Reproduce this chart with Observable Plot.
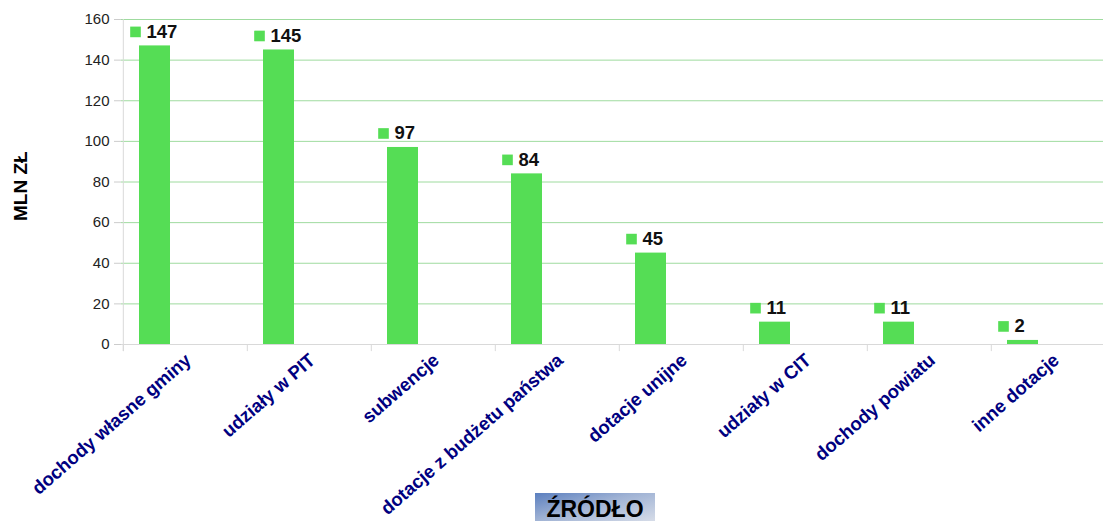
<!DOCTYPE html>
<html><head><meta charset="utf-8">
<script src="https://cdn.jsdelivr.net/npm/d3@7"></script>
<script src="https://cdn.jsdelivr.net/npm/@observablehq/plot@0.6"></script>
<style>
body{margin:0;background:#fff;font-family:"Liberation Sans",Arial,sans-serif;}
#wrap{position:relative;width:1103px;height:521px;overflow:hidden;background:#fff;}
#chart{position:absolute;left:0;top:0;width:1116px;}
#chart svg{max-width:none !important;}
#xtitle{position:absolute;left:535px;top:493px;width:120px;height:28px;background:linear-gradient(165deg,#5b7fbf 0%,#9fb2d4 45%,#d6dce8 100%);font-weight:bold;font-size:23px;color:#000;text-align:center;line-height:32px;font-family:"Liberation Sans",Arial,sans-serif;}
</style></head><body>
<div id="wrap"><div id="chart"></div><div id="xtitle">ŹRÓDŁO</div></div>
<script>
const categories = ["dochody własne gminy","udziały w PIT","subwencje","dotacje z budżetu państwa","dotacje unijne","udziały w CIT","dochody powiatu","inne dotacje"];
const values = [147,145,97,84,45,11,11,2];
const yTicks = [0,20,40,60,80,100,120,140,160];
const yTitle = "MLN ZŁ";

const data = categories.map((c,i)=>({category:c, value:values[i]}));
const green = "#55dd55";

const chart = Plot.plot({
  width: 1116, height: 521,
  marginLeft: 121, marginRight: 0, marginTop: 19, marginBottom: 177,
  style: {fontFamily: "Liberation Sans, Arial, sans-serif", background: "white", maxWidth: "none"},
  x: {domain: categories, padding: 0, label: null},
  y: {domain: [0,160], label: null},
  marks: [
    Plot.gridY(yTicks.filter(d=>d>0), {stroke: "#7fcf7f", strokeOpacity: 0.75}),
    Plot.ruleY([0], {stroke: "#d9d9d9"}),
    Plot.ruleX([0], {x: () => categories[0], dx: -62.2, y1: -3.5, y2: 160, stroke: "#d9d9d9"}),
    Plot.ruleX(categories, {x: d=>d, dx: -62.2, y1: -3.5, y2: 0, stroke: "#d9d9d9"}),
    Plot.barY(data, {x: "category", y: "value", fill: green, insetLeft: 16, insetRight: 77}),
    Plot.dot(data, {x: "category", y: "value", symbol: "square", r: 6, fill: green, stroke: null, dx: -50, dy: -14}),
    Plot.text(data, {x: "category", y: "value", text: d=>String(d.value), textAnchor: "start", dx: -39, dy: -14, fontWeight: "bold", fontSize: 18.5, fill: "#111"}),
    Plot.axisY(yTicks, {tickSize: 7, tickPadding: 5, fontSize: 15, color: "#222", stroke: "#cccccc", label: null}),
    Plot.axisX({tickSize: 0, tickRotate: -41, tickPadding: 13, dx: 3, fontSize: 18.5, fontWeight: "bold", color: "#000080", label: null}),
    Plot.text([yTitle], {frameAnchor: "left", dx: -101, dy: 39, rotate: -90, fontWeight: "bold", fontSize: 19, fill: "#000"})
  ]
});
document.getElementById("chart").appendChild(chart);
</script>
</body></html>
